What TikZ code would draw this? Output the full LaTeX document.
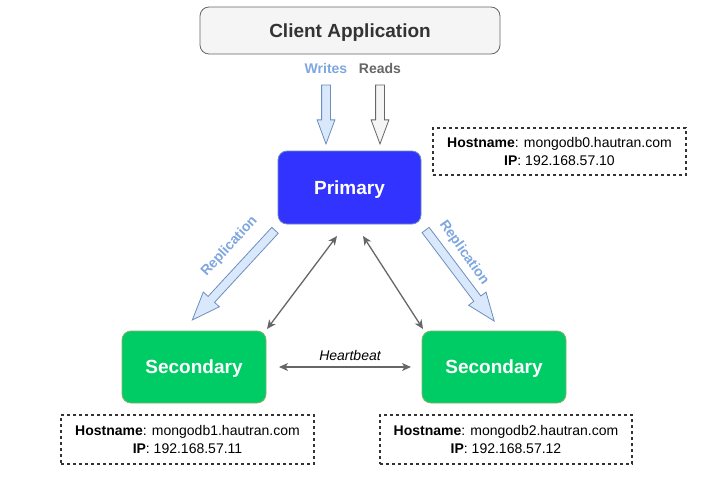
\documentclass[tikz,border=0pt]{standalone}
\usepackage{fontspec}
\setmainfont{Liberation Sans}
\usetikzlibrary{shapes.arrows,arrows.meta}
\definecolor{cltfill}{HTML}{F5F5F5}
\definecolor{cltline}{HTML}{666666}
\definecolor{clttext}{HTML}{333333}
\definecolor{bluefill}{HTML}{DAE8FC}
\definecolor{blueline}{HTML}{6C8EBF}
\definecolor{bluetext}{HTML}{7EA6E0}
\definecolor{primfill}{HTML}{3333FF}
\definecolor{secfill}{HTML}{00CC66}
\definecolor{secline}{HTML}{82B366}
\definecolor{grayline}{HTML}{666666}
\tikzset{
  roundbox/.style={rounded corners=9pt, line width=0.8pt, font=\fontsize{19}{22}\selectfont\bfseries,
    text height=14.2pt, text depth=0.6pt},
  primbox/.style={roundbox, fill=primfill, draw=blueline, text=white, minimum width=143pt, minimum height=73pt},
  secbox/.style={roundbox, fill=secfill, draw=secline, text=white, minimum width=144pt, minimum height=72pt},
  infobox/.style={draw=black!80, line width=1.1pt, dash pattern=on 3pt off 3pt, align=center,
    font=\fontsize{14}{17.5}\selectfont, minimum height=48pt},
  blockarrow/.style={single arrow, draw, line width=0.8pt, inner xsep=0pt, inner ysep=4pt,
    single arrow head indent=0pt},
  wrarrow/.style={blockarrow, single arrow head extend=4.5pt, single arrow tip angle=40.6, minimum height=59pt},
  reparrow/.style={blockarrow, fill=bluefill, draw=blueline, single arrow head extend=6.5pt, single arrow tip angle=42.5},
  hb/.style={draw=grayline, line width=1.3pt, {Stealth[length=9pt,width=8pt,inset=2.5pt]}-{Stealth[length=9pt,width=8pt,inset=2.5pt]}},
  bluelabel/.style={text=bluetext, font=\fontsize{14}{16}\selectfont\bfseries},
}
\begin{document}
\begin{tikzpicture}[x=1pt,y=-1pt]
\useasboundingbox (0,0) rectangle (728,490);

\node[roundbox, fill=cltfill, draw=cltline, text=clttext, minimum width=300pt, minimum height=47pt] (client) at (350,30.5) {Client Application};

\node[bluelabel] (wlab) at (326,68) {Writes};
\node[text=cltline, font=\fontsize{14}{16}\selectfont\bfseries] (rlab) at (380,68) {Reads};

\node[wrarrow, fill=bluefill, draw=blueline, rotate=-90] (warrow) at (326,108.5) {};
\node[wrarrow, fill=cltfill, draw=cltline, rotate=-90] (rarrow) at (380,108.5) {};

\node[primbox] (prim) at (349.5,187.5) {Primary};
\node[secbox] (sec1) at (194,367) {Secondary};
\node[secbox] (sec2) at (494,367) {Secondary};

\node[infobox, minimum width=253pt, minimum height=47pt] (info0) at (559.5,151.5) {\textbf{Hostname}: mongodb0.hautran.com\\\textbf{IP}: 192.168.57.10};
\node[infobox, minimum width=253pt, minimum height=49pt] (info1) at (187.5,439.5) {\textbf{Hostname}: mongodb1.hautran.com\\\textbf{IP}: 192.168.57.11};
\node[infobox, minimum width=252pt, minimum height=49pt] (info2) at (506,439.5) {\textbf{Hostname}: mongodb2.hautran.com\\\textbf{IP}: 192.168.57.12};

% replication block arrows
\node[reparrow, minimum height=122pt, rotate=227.3] (rep1) at (237.5,271) {};
\node[reparrow, minimum height=114pt, rotate=-53] (rep2) at (456.5,271) {};
\node[bluelabel, rotate=47.3] (rep1lab) at (229.5,246.5) {Replication};
\node[bluelabel, rotate=-55] (rep2lab) at (464,253) {Replication};

% heartbeat connectors
\coordinate (p1) at (337,236);
\coordinate (s1) at (267,329);
\coordinate (p2) at (363,236);
\coordinate (s2) at (423,329);
\coordinate (h1) at (279,367);
\coordinate (h2) at (411,367);
\draw[hb] (p1) -- (s1);
\draw[hb] (p2) -- (s2);
\draw[hb] (h1) -- (h2);
\node[font=\fontsize{14}{16}\selectfont\itshape] (hblab) at (350,355) {Heartbeat};
\end{tikzpicture}
\end{document}
